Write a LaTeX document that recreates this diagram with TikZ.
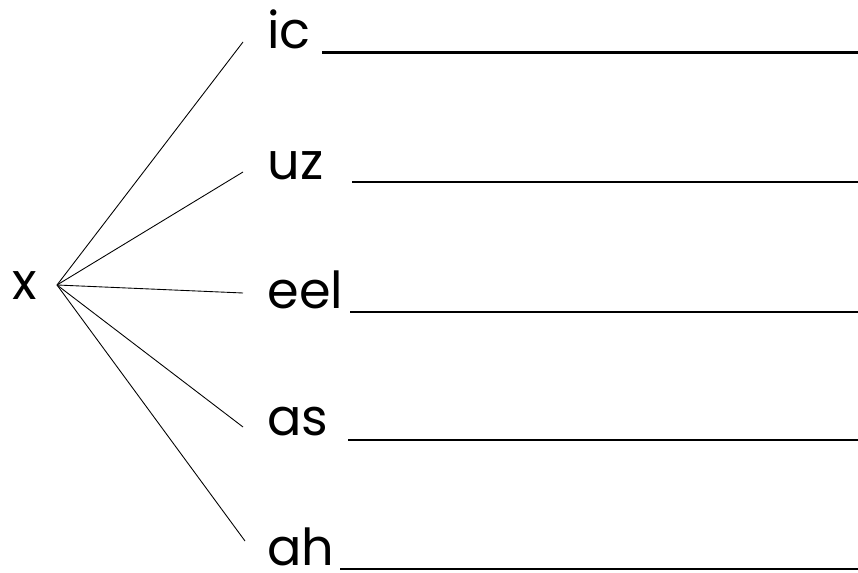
\documentclass[tikz,border=0pt]{standalone}
\usepackage{fontspec}
\setmainfont{Poppins}
\usetikzlibrary{positioning}
\tikzset{
  every picture/.style={line width=0.5pt},
  word/.style={font=\fontsize{29}{35}\selectfont, inner sep=0pt, anchor=base west},
  spoke/.style={draw=black, line width=0.5pt},
  blank/.style={draw=black, line width=1.7pt},
}
\begin{document}
\begin{tikzpicture}[x=0.02cm, y=-0.02cm]
  \useasboundingbox (0,0) rectangle (858,573);
  % the letter and where the spokes meet
  \node[word] (x) at (12,300) {x};
  \coordinate (hub) at (57,285);
  % word endings
  \node[word] (ic) at (267,49) {ic};
  \node[word] (uz) at (267,180) {uz};
  \node[word] (eel) at (267,309) {eel};
  \node[word] (as) at (267,436) {as};
  \node[word] (ah) at (267,565) {ah};
  % spoke ends
  \coordinate (tic) at (243,42);
  \coordinate (tuz) at (243,172);
  \coordinate (teel) at (243,293);
  \coordinate (tas) at (243,427);
  \coordinate (tah) at (245,541);
  \draw[spoke] (hub) -- (tic);
  \draw[spoke] (hub) -- (tuz);
  \draw[spoke] (hub) -- (teel);
  \draw[spoke] (hub) -- (tas);
  \draw[spoke] (hub) -- (tah);
  % blanks to write in
  \draw[blank] (322,53) -- (858,53);
  \draw[blank] (352,182) -- (858,182);
  \draw[blank] (350,312) -- (858,312);
  \draw[blank] (348,440) -- (858,440);
  \draw[blank] (340,569) -- (858,569);
\end{tikzpicture}
\end{document}
